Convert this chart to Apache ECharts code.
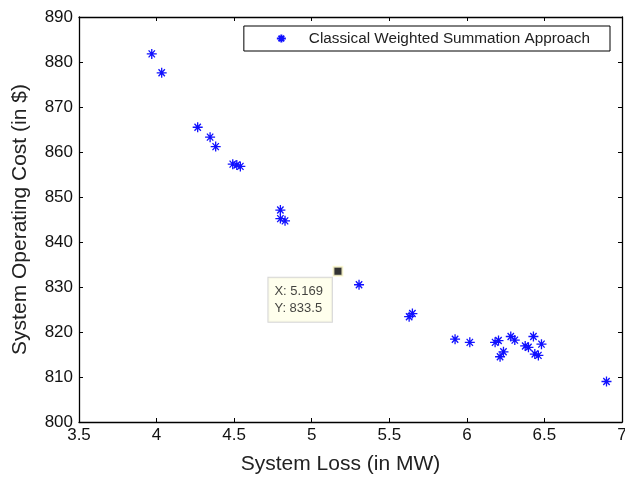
<!DOCTYPE html>
<html>
<head>
<meta charset="utf-8">
<script src="https://cdn.jsdelivr.net/npm/echarts@6/dist/echarts.min.js"></script>
<style>
  html, body { margin: 0; padding: 0; background: #fff; }
  #main { width: 625px; height: 480px; }
</style>
</head>
<body>
<div id="main"></div>
<script>
var lossValues = [3.969, 4.033, 4.265, 4.345, 4.381, 4.491, 4.517, 4.540, 4.798, 4.798, 4.828,
  5.305, 5.628, 5.649, 5.924, 6.019, 6.182, 6.204, 6.214, 6.236, 6.283, 6.309,
  6.376, 6.397, 6.429, 6.481, 6.438, 6.461, 6.900];
var costValues = [881.8, 877.6, 865.5, 863.3, 861.2, 857.3, 857.1, 856.8, 847.1, 845.2, 844.7,
  830.5, 823.4, 824.1, 818.4, 817.7, 817.7, 818.1, 814.5, 815.6, 819.0, 818.2,
  816.9, 816.6, 819.0, 817.3, 815.1, 814.8, 809.0];
var markedPoint = [5.169, 833.5];
var seriesName = 'Classical Weighted Summation Approach';

var star = 'path://M0,-10L0,10M-11,0L11,0M-7,-7L7,7M-7,7L7,-7';
var font = 'Liberation Sans, Arial, sans-serif';

var points = lossValues.map(function (x, i) { return [x, costValues[i]]; });

var tickStyle = { inside: true, length: 4, lineStyle: { color: '#000', width: 1 } };
var lineStyle = { lineStyle: { color: '#000', width: 1.3 } };

var option = {
  animation: false,
  backgroundColor: '#fff',
  textStyle: { fontFamily: font },
  grid: { left: 79, right: 3, top: 17, bottom: 58, outerBoundsMode: 'none' },
  legend: {
    data: [{ name: seriesName, icon: star }],
    right: 15,
    top: 26,
    itemWidth: 9,
    itemHeight: 9,
    itemGap: 0,
    padding: [5, 20, 5, 32],
    borderColor: '#000',
    borderWidth: 1,
    borderRadius: 0,
    backgroundColor: '#fff',
    textStyle: { fontFamily: font, fontSize: 15.3, color: '#222', padding: [0, 0, 0, 18] }
  },
  xAxis: [{
    type: 'value', min: 3.5, max: 7, interval: 0.5,
    name: 'System Loss (in MW)', nameLocation: 'middle', nameGap: 32,
    nameTextStyle: { fontSize: 21, color: '#222', fontFamily: font, padding: [0, 20, 0, 0] },
    axisLine: lineStyle, axisTick: tickStyle,
    axisLabel: { fontSize: 17, color: '#111', margin: 5, fontFamily: font },
    splitLine: { show: false }
  }, {
    type: 'value', position: 'top', min: 3.5, max: 7, interval: 0.5,
    axisLine: lineStyle, axisTick: tickStyle,
    axisLabel: { show: false }, splitLine: { show: false }
  }],
  yAxis: [{
    type: 'value', min: 800, max: 890, interval: 10,
    name: 'System Operating Cost (in $)', nameLocation: 'middle', nameGap: 48,
    nameTextStyle: { fontSize: 21, color: '#222', fontFamily: font },
    axisLine: lineStyle, axisTick: tickStyle,
    axisLabel: { fontSize: 17, color: '#111', margin: 6, fontFamily: font },
    splitLine: { show: false }
  }, {
    type: 'value', position: 'right', min: 800, max: 890, interval: 10,
    axisLine: lineStyle, axisTick: tickStyle,
    axisLabel: { show: false }, splitLine: { show: false }
  }],
  series: [{
    name: seriesName,
    type: 'scatter',
    symbol: star,
    symbolSize: 10,
    itemStyle: { color: '#1010ff', borderColor: '#1010ff', borderWidth: 1.3, opacity: 1 },
    data: points
  }, {
    name: 'marker',
    type: 'scatter',
    symbol: 'rect',
    symbolSize: 9,
    itemStyle: { color: '#000', borderColor: '#fffbd0', borderWidth: 2 },
    label: {
      show: true,
      position: [-64, 12],
      formatter: 'X: ' + markedPoint[0] + '\nY: ' + markedPoint[1],
      fontFamily: font,
      fontSize: 13,
      lineHeight: 17,
      color: '#111',
      backgroundColor: '#ffffe8',
      borderColor: '#ccc',
      borderWidth: 1,
      padding: [5, 9, 5, 6]
    },
    data: [markedPoint],
    z: 5
  }]
};

var chart = echarts.init(document.getElementById('main'));
chart.setOption(option);
</script>
</body>
</html>
